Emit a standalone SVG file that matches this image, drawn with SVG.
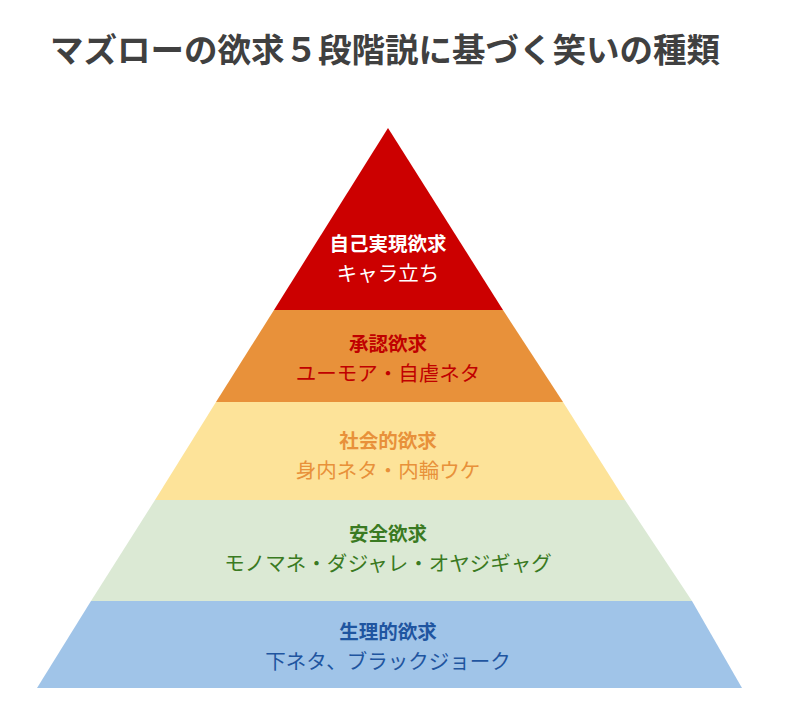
<svg xmlns="http://www.w3.org/2000/svg" width="800" height="705" viewBox="0 0 800 705">
<style>
text{font-family:"Noto Sans CJK JP","Noto Sans",sans-serif;text-anchor:middle}
.h{font-size:19.5px;font-weight:bold}
.s{font-size:20.5px}
</style>
<rect width="800" height="705" fill="#fff"/>
<text x="50" y="62" style="text-anchor:start;font-size:33.5px;font-weight:bold" fill="#404040">マズローの欲求５段階説に基づく笑いの種類</text>
<g id="l5"><polygon points="388,128 503,310 274,310" fill="#cc0000"/>
<text class="h" x="388" y="251" fill="#fff">自己実現欲求</text><text class="s" x="388" y="281" fill="#fff">キャラ立ち</text></g>
<g id="l4"><polygon points="274,310 503,310 563,402 216,402" fill="#e8913a"/>
<text class="h" x="388" y="351" fill="#c00000">承認欲求</text><text class="s" x="388" y="381" fill="#c00000">ユーモア・自虐ネタ</text></g>
<g id="l3"><polygon points="216,402 563,402 625,500 155,500" fill="#fde399"/>
<text class="h" x="388" y="448" fill="#e8913a">社会的欲求</text><text class="s" x="388" y="478" fill="#e8913a">身内ネタ・内輪ウケ</text></g>
<g id="l2"><polygon points="155,500 625,500 692,601 91,601" fill="#dbe9d4"/>
<text class="h" x="388" y="541" fill="#3a7a22">安全欲求</text><text class="s" x="388" y="571" fill="#3a7a22">モノマネ・ダジャレ・オヤジギャグ</text></g>
<g id="l1"><polygon points="91,601 692,601 742,688 37,688" fill="#a0c4e8"/>
<text class="h" x="388" y="639" fill="#1f55a0">生理的欲求</text><text class="s" x="388" y="669" fill="#1f55a0">下ネタ、ブラックジョーク</text></g>
<g id="connectors"/>
</svg>
